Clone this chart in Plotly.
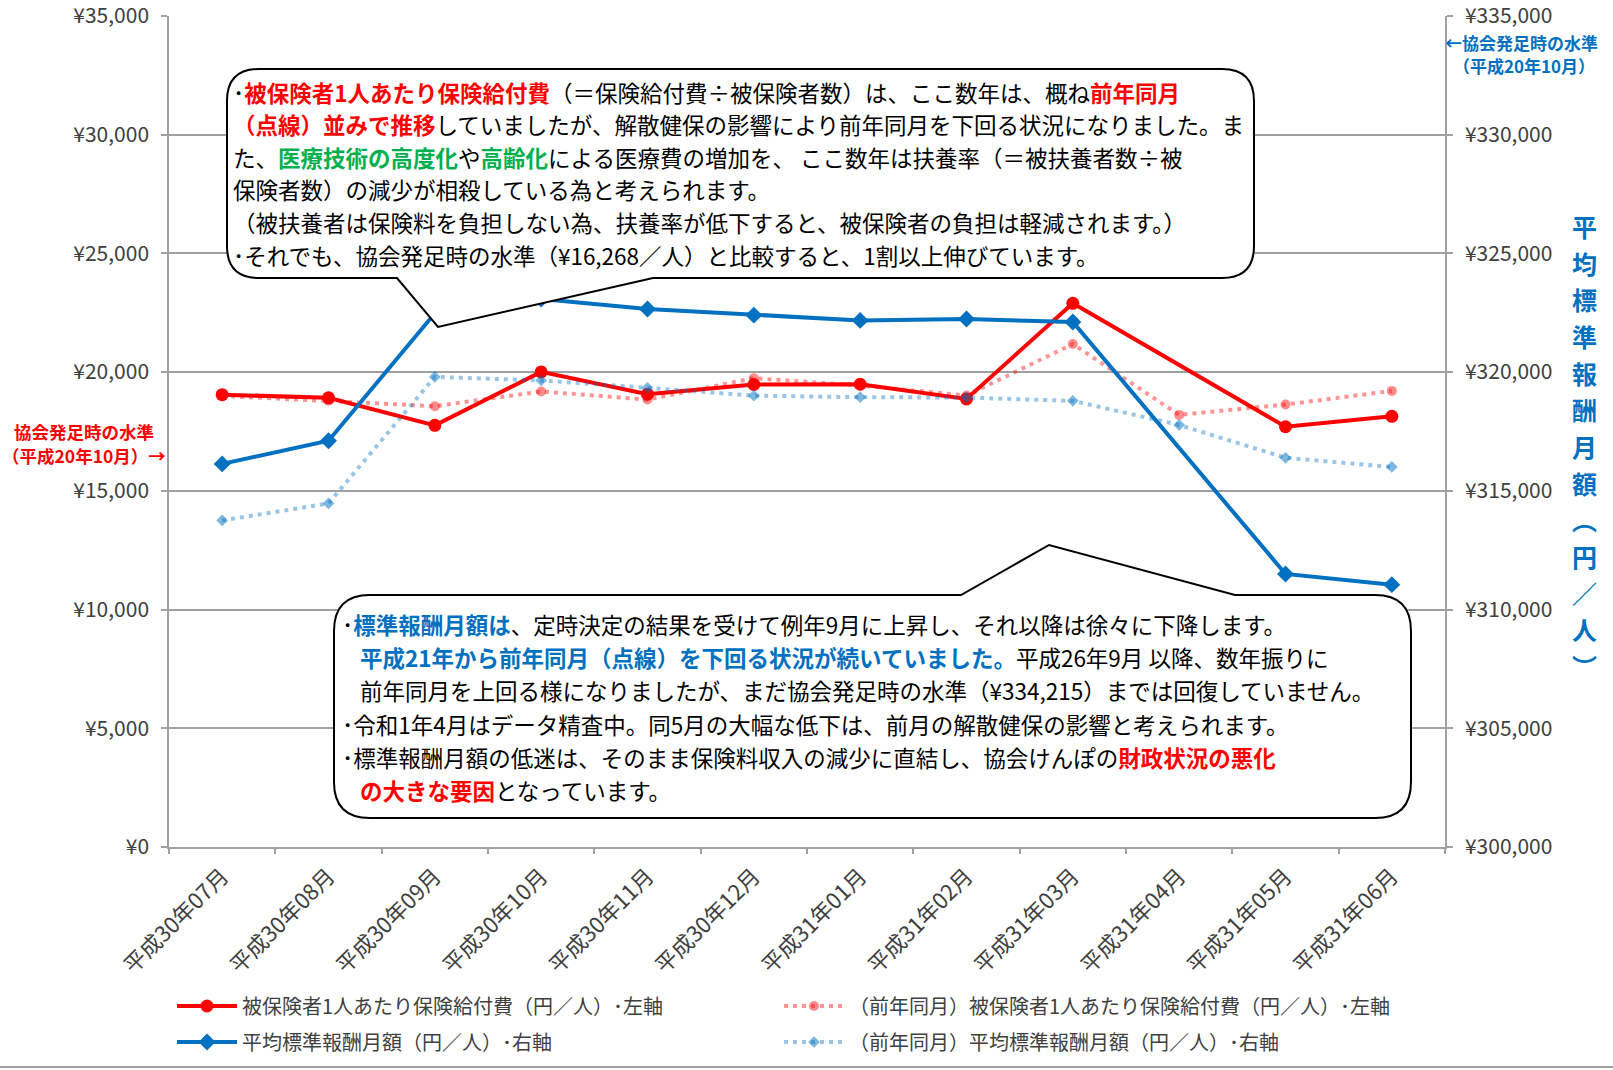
import plotly.graph_objects as go

# ---------------- data ----------------
months = ["平成30年07月", "平成30年08月", "平成30年09月", "平成30年10月", "平成30年11月", "平成30年12月",
          "平成31年01月", "平成31年02月", "平成31年03月", "平成31年04月", "平成31年05月", "平成31年06月"]
benefit = [19050, 18920, 17760, 20010, 19070, 19480, 19490, 18870, 22900, None, 17700, 18140]
benefit_prev = [19000, 18800, 18565, 19185, 18845, 19745, 19440, 19015, 21183, 18200, 18635, 19210]
salary = [316135, 317110, 322480, 323080, 322660, 322400, 322180, 322240, 322110, None, 311500, 311050]
salary_prev = [313754, 314470, 319800, 319650, 319340, 319010, 318945, 318930, 318790, 317775, 316393, 316006]

left_ticks = [0, 5000, 10000, 15000, 20000, 25000, 30000, 35000]
right_ticks = [300000, 305000, 310000, 315000, 320000, 325000, 330000, 335000]
left_tick_text = ["¥{:,}".format(v) for v in left_ticks]
right_tick_text = ["¥{:,}".format(v) for v in right_ticks]

names = ["被保険者1人あたり保険給付費（円／人）･左軸",
         "（前年同月）被保険者1人あたり保険給付費（円／人）･左軸",
         "平均標準報酬月額（円／人）･右軸",
         "（前年同月）平均標準報酬月額（円／人）･右軸"]

# ---------------- geometry helpers ----------------
W, H = 1613, 1070
L, R, T, B = 169, 168, 16, 223
PW = W - L - R
PH = H - T - B
FONT = "Noto Sans CJK JP"
RED = "#FF0000"
BLUE = "#0070C0"
GREEN = "#00B050"
GRID = "#A0A0A0"
TXT = "#404040"


def px(x):
    return (x - L) / PW


def py(y):
    return (H - B - y) / PH


def P(x, y):
    return "{:.5f},{:.5f}".format(px(x), py(y))


fig = go.Figure()

fig.add_trace(go.Scatter(
    x=months, y=benefit, name=names[0], mode="lines+markers", connectgaps=True, showlegend=True,
    line=dict(color=RED, width=4), marker=dict(symbol="circle", size=13, color=RED),
    legend="legend"))
fig.add_trace(go.Scatter(
    x=months, y=benefit_prev, name=names[1], mode="lines+markers", showlegend=True,
    line=dict(color="rgba(255,0,0,0.42)", width=4, dash="4px,5px"),
    marker=dict(symbol="circle", size=10, color="rgba(255,0,0,0.45)"),
    legend="legend2"))
fig.add_trace(go.Scatter(
    x=months, y=salary, name=names[2], mode="lines+markers", connectgaps=True, yaxis="y2", showlegend=True,
    line=dict(color=BLUE, width=4), marker=dict(symbol="diamond", size=13, color=BLUE),
    legend="legend3"))
fig.add_trace(go.Scatter(
    x=months, y=salary_prev, name=names[3], mode="lines+markers", yaxis="y2", showlegend=True,
    line=dict(color="rgba(0,112,192,0.40)", width=4, dash="4px,5px"),
    marker=dict(symbol="diamond", size=9, color="rgba(0,112,192,0.5)"),
    legend="legend4"))

# ---------------- callout shapes ----------------
shapes = []
# top callout
l, t, r_, b, rad = 227, 69, 1254, 278, 32
p1x, apx, apy, p2x = 397, 438, 327, 653
path_top = ("M" + P(l + rad, t) + " L" + P(r_ - rad, t) + " Q" + P(r_, t) + " " + P(r_, t + rad) +
            " L" + P(r_, b - rad) + " Q" + P(r_, b) + " " + P(r_ - rad, b) +
            " L" + P(p2x, b) + " L" + P(apx, apy) + " L" + P(p1x, b) +
            " L" + P(l + rad, b) + " Q" + P(l, b) + " " + P(l, b - rad) +
            " L" + P(l, t + rad) + " Q" + P(l, t) + " " + P(l + rad, t) + " Z")
shapes.append(dict(type="path", xref="paper", yref="paper", path=path_top,
                   fillcolor="white", line=dict(color="black", width=2), layer="above"))
# bottom callout
l, t, r_, b, rad = 334, 595, 1411, 818, 36
p1x, apx, apy, p2x = 961, 1049, 545, 1235
path_bot = ("M" + P(l + rad, t) + " L" + P(p1x, t) + " L" + P(apx, apy) + " L" + P(p2x, t) +
            " L" + P(r_ - rad, t) + " Q" + P(r_, t) + " " + P(r_, t + rad) +
            " L" + P(r_, b - rad) + " Q" + P(r_, b) + " " + P(r_ - rad, b) +
            " L" + P(l + rad, b) + " Q" + P(l, b) + " " + P(l, b - rad) +
            " L" + P(l, t + rad) + " Q" + P(l, t) + " " + P(l + rad, t) + " Z")
shapes.append(dict(type="path", xref="paper", yref="paper", path=path_bot,
                   fillcolor="white", line=dict(color="black", width=2), layer="above"))
# bottom border of chart area
shapes.append(dict(type="line", xref="paper", yref="paper", x0=px(0), x1=px(W), y0=py(1067), y1=py(1067),
                   line=dict(color=GRID, width=2), layer="above"))


def red(s):
    return "<b><span style='color:%s'>%s</span></b>" % (RED, s)


def green(s):
    return "<b><span style='color:%s'>%s</span></b>" % (GREEN, s)


def blue(s):
    return "<b><span style='color:%s'>%s</span></b>" % (BLUE, s)


top_lines = [
    (231, 92, "･" + red("被保険者1人あたり保険給付費") + "（＝保険給付費÷被保険者数）は、ここ数年は、概ね" + red("前年同月")),
    (231, 124, red("（点線）並みで推移") + "していましたが、解散健保の影響により前年同月を下回る状況になりました。ま"),
    (231, 157, "た、" + green("医療技術の高度化") + "や" + green("高齢化") + "による医療費の増加を、 ここ数年は扶養率（＝被扶養者数÷被"),
    (231, 189, "保険者数）の減少が相殺している為と考えられます。"),
    (231, 222, "（被扶養者は保険料を負担しない為、扶養率が低下すると、被保険者の負担は軽減されます。）"),
    (231, 255, "･それでも、協会発足時の水準（¥16,268／人）と比較すると、1割以上伸びています。"),
]
bot_lines = [
    (340, 624, "･" + blue("標準報酬月額は") + "、定時決定の結果を受けて例年9月に上昇し、それ以降は徐々に下降します。"),
    (358, 657, blue("平成21年から前年同月（点線）を下回る状況が続いていました。") + "平成26年9月 以降、数年振りに"),
    (358, 690, "前年同月を上回る様になりましたが、まだ協会発足時の水準（¥334,215）までは回復していません。"),
    (340, 724, "･令和1年4月はデータ精査中。同5月の大幅な低下は、前月の解散健保の影響と考えられます。"),
    (340, 757, "･標準報酬月額の低迷は、そのまま保険料収入の減少に直結し、協会けんぽの" + red("財政状況の悪化")),
    (358, 790, red("の大きな要因") + "となっています。"),
]

annotations = []
for x, y, txt in top_lines + bot_lines:
    annotations.append(dict(xref="paper", yref="paper", x=px(x), y=py(y), xanchor="left", yanchor="middle",
                            text=txt, showarrow=False, align="left",
                            font=dict(family=FONT, size=22.5, color="black")))

# left/right reference notes
annotations.append(dict(xref="paper", yref="paper", x=px(84), y=py(432), xanchor="center", yanchor="middle",
                        text="<b>協会発足時の水準</b>", showarrow=False,
                        font=dict(family=FONT, size=17.5, color=RED)))
annotations.append(dict(xref="paper", yref="paper", x=px(84), y=py(455), xanchor="center", yanchor="middle",
                        text="<b>（平成20年10月）→</b>", showarrow=False,
                        font=dict(family=FONT, size=17.5, color=RED)))
annotations.append(dict(xref="paper", yref="paper", x=px(1443), y=py(42), xanchor="left", yanchor="middle",
                        text="<b>←協会発足時の水準</b>", showarrow=False,
                        font=dict(family=FONT, size=17, color=BLUE)))
annotations.append(dict(xref="paper", yref="paper", x=px(1524), y=py(65), xanchor="center", yanchor="middle",
                        text="<b>（平成20年10月）</b>", showarrow=False,
                        font=dict(family=FONT, size=17, color=BLUE)))

# vertical right axis title (one text, one character per line)
title_chars = ["平", "均", "標", "準", "報", "酬", "月", "額", "︵", "円", "／", "人", "︶"]
title_text = "<br>".join("<b><span style='font-size:25px'>%s</span></b>" % c for c in title_chars)
annotations.append(dict(xref="paper", yref="paper", x=px(1584), y=py(446), xanchor="center", yanchor="middle",
                        text=title_text, showarrow=False, align="center",
                        font=dict(family=FONT, size=28.2, color=BLUE)))

leg_common = dict(orientation="h", xanchor="left", yanchor="middle", bgcolor="rgba(0,0,0,0)",
                  font=dict(family=FONT, size=20, color=TXT), itemwidth=60, borderwidth=0)

fig.update_layout(
    width=W, height=H,
    margin=dict(l=L, r=R, t=T, b=B, pad=0, autoexpand=False),
    paper_bgcolor="white", plot_bgcolor="white",
    font=dict(family=FONT, color=TXT),
    showlegend=True,
    xaxis=dict(type="category", categoryorder="array", categoryarray=months, range=[-0.5, 11.5],
               automargin=False,
               showline=True, linecolor=GRID, linewidth=1.5, showgrid=False,
               ticks="outside", tickson="boundaries", ticklen=5, tickcolor=GRID, tickwidth=1.5,
               tickangle=-45, ticklabelstandoff=6, tickfont=dict(family=FONT, size=22, color=TXT)),
    yaxis=dict(range=[0, 35000], tickvals=left_ticks, ticktext=left_tick_text, automargin=False,
               ticklabeloverflow="allow",
               showline=True, linecolor=GRID, linewidth=1.5, showgrid=True, gridcolor=GRID, gridwidth=1.5,
               zeroline=False, ticks="outside", ticklen=6, tickcolor=GRID, tickwidth=1.5,
               ticklabelstandoff=8, tickfont=dict(family=FONT, size=21, color=TXT)),
    yaxis2=dict(range=[300000, 335000], tickvals=right_ticks, ticktext=right_tick_text, overlaying="y",
                automargin=False, ticklabeloverflow="allow",
                side="right", showline=True, linecolor=GRID, linewidth=1.5, showgrid=False, zeroline=False,
                ticks="outside", ticklen=6, tickcolor=GRID, tickwidth=1.5, ticklabelstandoff=8,
                tickfont=dict(family=FONT, size=21, color=TXT)),
    legend=dict(x=px(172), y=py(1006), **leg_common),
    legend2=dict(x=px(779), y=py(1006), **leg_common),
    legend3=dict(x=px(172), y=py(1042), **leg_common),
    legend4=dict(x=px(779), y=py(1042), **leg_common),
    shapes=shapes,
    annotations=annotations,
    hovermode=False,
)

fig.write_html("out.html", config={"displayModeBar": False},
               post_script="document.body.style.margin='0';")
